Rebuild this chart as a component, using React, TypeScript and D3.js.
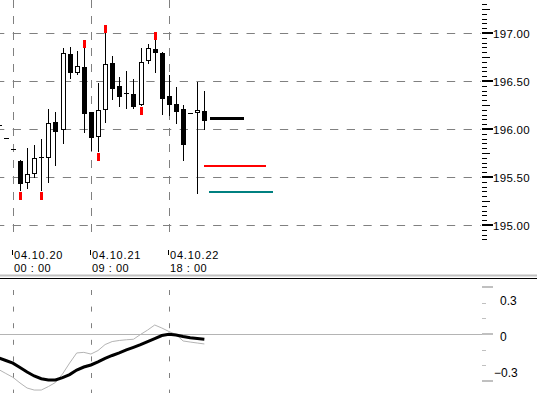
import * as d3 from "d3";

// 3-hour bars, index -3..26 (first three are only partly on screen)
const barIndex = d3.range(-3, 27);
const opens = [196.04, 195.91, 195.79, 195.67, 195.45, 195.54, 195.71, 195.71, 196.07, 196.0, 196.78, 196.59, 196.65, 196.18, 195.93, 196.21, 196.69, 196.45, 196.375, 196.36, 196.26, 196.72, 196.83, 196.79, 196.34, 196.26, 196.21, 196.17, 196.18, 196.19];
const highs = [196.04, 195.91, 195.79, 195.68, 195.8, 195.83, 195.9, 196.21, 196.18, 196.84, 196.85, 196.81, 196.84, 196.18, 196.48, 197.0, 196.76, 196.54, 196.6, 196.52, 196.84, 196.89, 196.93, 196.8, 196.56, 196.44, 196.25, 196.17, 196.49, 196.4];
const lows = [196.04, 195.91, 195.79, 195.365, 195.385, 195.5, 195.365, 195.45, 195.625, 195.854, 196.53, 196.57, 195.97, 195.78, 195.77, 196.07, 196.31, 196.24, 196.22, 196.22, 196.25, 196.69, 196.59, 196.16, 196.15, 196.06, 195.68, 196.17, 195.33, 196.0];
const closes = [196.04, 195.91, 195.79, 195.44, 195.53, 195.7, 195.71, 196.06, 195.98, 196.79, 196.59, 196.66, 196.17, 195.92, 196.2, 196.68, 196.43, 196.34, 196.375, 196.24, 196.7, 196.84, 196.8, 196.32, 196.26, 196.19, 195.84, 196.17, 196.2, 196.09];

const fractalUp = [9, 12, 19];
const fractalDown = [0, 3, 11, 17];

const priceTicks = [195, 195.5, 196, 196.5, 197];

const timeBars = [-1, 10, 21];
const timeDates = ["04.10.20", "04.10.21", "04.10.22"];
const timeHours = ["00 : 00", "09 : 00", "18 : 00"];

// level lines at the right of the last bar
const levelPrices = [196.11, 195.61, 195.34];
const levelColors = ["#000000", "#ff0000", "#008080"];

// oscillator (lower pane)
const oscMain = [-0.2, -0.221, -0.243, -0.279, -0.317, -0.35, -0.373, -0.383, -0.383, -0.363, -0.338, -0.3, -0.275, -0.258, -0.233, -0.204, -0.179, -0.158, -0.133, -0.111, -0.088, -0.063, -0.038, -0.013, -0.002, -0.008, -0.021, -0.031, -0.038, -0.044];
const oscSignal = [-0.296, -0.329, -0.361, -0.408, -0.45, -0.467, -0.467, -0.438, -0.404, -0.333, -0.242, -0.158, -0.153, -0.167, -0.138, -0.088, -0.063, -0.054, -0.048, -0.044, -0.004, 0.033, 0.075, 0.05, 0.021, -0.004, -0.058, -0.067, -0.075, -0.083];
const oscLabels = [0.3, 0, -0.3];
const oscTicks = [0.39, 0.26, 0.13, 0, -0.13, -0.26, -0.39];

const W = 537;
const H = 393;
const font = "'Liberation Sans', Arial, sans-serif";

export default function App() {
  const x = d3.scaleLinear().domain([0, 11]).range([20, 98]);
  const y = d3.scaleLinear().domain([195, 197]).range([225, 33]);
  const yo = d3.scaleLinear().domain([-0.3, 0.3]).range([370, 298]);
  const axisX = 482;

  const minorTicks = d3.range(194.85, 197.36, 0.05).map((v) => Math.round(v * 100) / 100);

  const oscLine = d3
    .line<number>()
    .x((_, i) => x(barIndex[i]))
    .y((d) => yo(d));

  const lastX = Math.round(x(26));
  const levelSpans = [
    [lastX + 6, lastX + 40, 3],
    [lastX, lastX + 62, 2],
    [lastX + 5, lastX + 69, 2],
  ];

  return (
    <svg
      width={W}
      height={H}
      style={{ position: "fixed", left: 0, top: 0, background: "#fff" }}
      fontFamily={font}
    >
      <rect width={W} height={H} fill="#fff" />
      <defs>
        <clipPath id="plot">
          <rect x={0} y={0} width={axisX} height={H} />
        </clipPath>
      </defs>

      {/* upper grid */}
      {priceTicks.map((p) => (
        <line
          key={"h" + p}
          x1={0}
          x2={axisX - 1}
          y1={Math.round(y(p)) + 0.5}
          y2={Math.round(y(p)) + 0.5}
          stroke="#808080"
          strokeDasharray="8.3,8.4"
          strokeDashoffset={4}
        />
      ))}
      {timeBars.map((b) => (
        <line
          key={"v" + b}
          x1={Math.round(x(b)) + 0.5}
          x2={Math.round(x(b)) + 0.5}
          y1={0}
          y2={240}
          stroke="#808080"
          strokeDasharray="8,8"
        />
      ))}

      {/* candles */}
      <g clipPath="url(#plot)">
        {barIndex.map((b, i) => {
          const cx = Math.round(x(b));
          const yO = Math.round(y(opens[i]));
          const yC = Math.round(y(closes[i]));
          const yH = Math.round(y(highs[i]));
          const yL = Math.round(y(lows[i]));
          const top = Math.min(yO, yC);
          const bot = Math.max(yO, yC);
          return (
            <g key={b}>
              {yL > yH && (
                <line x1={cx + 0.5} x2={cx + 0.5} y1={yH} y2={yL + 1} stroke="#000" />
              )}
              {yO === yC ? (
                <line x1={cx - 2} x2={cx + 3} y1={yO + 0.5} y2={yO + 0.5} stroke="#000" />
              ) : closes[i] < opens[i] ? (
                <rect x={cx - 2} y={top} width={5} height={bot - top + 1} fill="#000" />
              ) : (
                <rect
                  x={cx - 1.5}
                  y={top + 0.5}
                  width={4}
                  height={bot - top}
                  fill="#fff"
                  stroke="#000"
                />
              )}
            </g>
          );
        })}
        {fractalUp.map((b) => {
          const i = barIndex.indexOf(b);
          const cx = Math.round(x(b));
          const yH = Math.round(y(highs[i]));
          return <rect key={"u" + b} x={cx - 1} y={yH - 8} width={3} height={8} fill="#ff0000" />;
        })}
        {fractalDown.map((b) => {
          const i = barIndex.indexOf(b);
          const cx = Math.round(x(b));
          const yL = Math.round(y(lows[i]));
          return <rect key={"d" + b} x={cx - 1} y={yL + 2} width={3} height={8} fill="#ff0000" />;
        })}
        {levelPrices.map((p, i) => (
          <rect
            key={"l" + i}
            x={levelSpans[i][0]}
            y={Math.round(y(p)) - Math.floor(levelSpans[i][2] / 2)}
            width={levelSpans[i][1] - levelSpans[i][0]}
            height={levelSpans[i][2]}
            fill={levelColors[i]}
          />
        ))}
      </g>

      {/* price axis */}
      {minorTicks.map((v) => {
        const yy = Math.round(y(v));
        const isMajor = Math.abs(v * 2 - Math.round(v * 2)) < 1e-6;
        const isMid = !isMajor && Math.abs(v * 4 - Math.round(v * 4)) < 1e-6;
        return isMajor ? (
          <rect key={"t" + v} x={axisX} y={yy - 1} width={11} height={2} fill="#000" />
        ) : (
          <line
            key={"t" + v}
            x1={axisX}
            x2={axisX + (isMid ? 8 : 5)}
            y1={yy + 0.5}
            y2={yy + 0.5}
            stroke="#000"
          />
        );
      })}
      {priceTicks.map((p) => (
        <text key={"pl" + p} x={493} y={Math.round(y(p)) + 4.5} fontSize={11.5} letterSpacing={0.3} fill="#000">
          {d3.format(".2f")(p)}
        </text>
      ))}

      {/* time labels */}
      {timeBars.map((b, i) => {
        const gx = Math.round(x(b));
        return (
          <g key={"tl" + b}>
            <line x1={gx - 0.5} x2={gx - 0.5} y1={250} y2={255} stroke="#000" />
            <text x={gx + 1} y={259} fontSize={11} letterSpacing={0.8} fill="#000">
              {timeDates[i]}
            </text>
            <text x={gx + 1} y={272} fontSize={11} letterSpacing={0.5} fill="#000">
              {timeHours[i]}
            </text>
          </g>
        );
      })}

      {/* pane separator */}
      <line x1={0} x2={W} y1={275.5} y2={275.5} stroke="#c0c0c0" strokeWidth={2} />
      <line x1={0} x2={W} y1={278.5} y2={278.5} stroke="#000" />

      {/* lower pane */}
      {timeBars.map((b) => (
        <line
          key={"ov" + b}
          x1={Math.round(x(b)) + 0.5}
          x2={Math.round(x(b)) + 0.5}
          y1={290}
          y2={H}
          stroke="#808080"
          strokeDasharray="5,11.6"
        />
      ))}
      <line x1={0} x2={axisX} y1={Math.round(yo(0)) + 0.5} y2={Math.round(yo(0)) + 0.5} stroke="#b4b4b4" />
      <g clipPath="url(#plot)">
        <path d={oscLine(oscSignal) ?? ""} fill="none" stroke="#b4b4b4" strokeWidth={1} />
        <path d={oscLine(oscMain) ?? ""} fill="none" stroke="#000" strokeWidth={3} />
      </g>
      {oscTicks.map((v, i) => {
        const yy = Math.round(yo(v));
        const big = i === 0 || i === oscTicks.length - 1 || v === 0;
        return big ? (
          <rect key={"ot" + v} x={axisX} y={yy - 1} width={11} height={2} fill="#c0c0c0" />
        ) : (
          <line key={"ot" + v} x1={axisX} x2={axisX + 4} y1={yy + 0.5} y2={yy + 0.5} stroke="#c0c0c0" />
        );
      })}
      {oscLabels.map((v) => (
        <text
          key={"ol" + v}
          x={v < 0 ? 494 : 500}
          y={Math.round(yo(v)) + 7}
          fontSize={12}
          fill="#000"
        >
          {v === 0 ? "0" : d3.format(".1f")(v)}
        </text>
      ))}
    </svg>
  );
}
